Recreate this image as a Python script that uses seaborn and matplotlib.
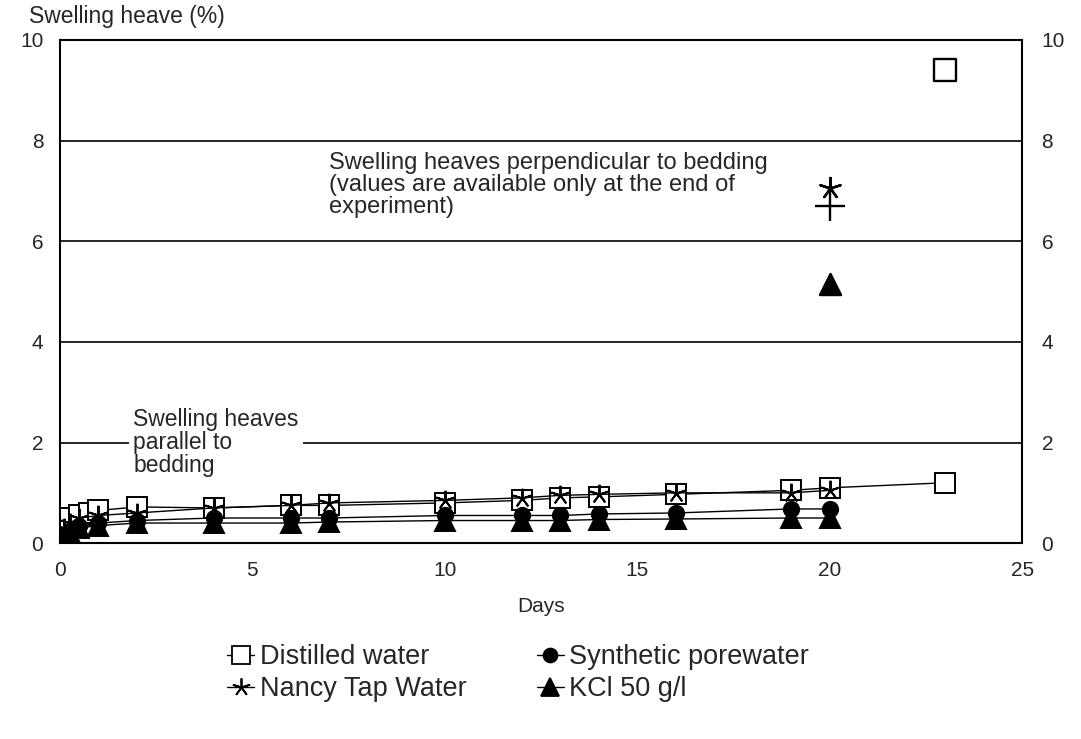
import numpy as np
import pandas as pd
import matplotlib
matplotlib.use("Agg")
import matplotlib.pyplot as plt
import seaborn as sns

# Swelling heaves parallel to bedding (time series)
days_distilled = [0, 0.1, 0.25, 0.5, 0.75, 1, 2, 4, 6, 7, 10, 12, 13, 14, 16, 19, 20, 23]
heave_distilled = [0.2, 0.4, 0.5, 0.55, 0.6, 0.65, 0.72, 0.7, 0.75, 0.75, 0.8, 0.85, 0.9, 0.92, 0.97, 1.05, 1.1, 1.2]

days_nancy = [0, 0.1, 0.25, 0.5, 1, 2, 4, 6, 7, 10, 12, 13, 14, 16, 19, 20]
heave_nancy = [0.1, 0.3, 0.4, 0.5, 0.55, 0.6, 0.7, 0.75, 0.8, 0.85, 0.9, 0.95, 0.97, 1.0, 1.0, 1.05]

days_pore = [0, 0.05, 0.1, 0.25, 0.5, 1, 2, 4, 6, 7, 10, 12, 13, 14, 16, 19, 20]
heave_pore = [0.0, 0.05, 0.15, 0.25, 0.35, 0.4, 0.45, 0.5, 0.5, 0.5, 0.55, 0.55, 0.55, 0.58, 0.6, 0.68, 0.68]

days_kcl = [0, 0.05, 0.1, 0.25, 0.5, 1, 2, 4, 6, 7, 10, 12, 13, 14, 16, 19, 20]
heave_kcl = [0.0, 0.05, 0.1, 0.2, 0.3, 0.35, 0.4, 0.4, 0.4, 0.42, 0.45, 0.45, 0.45, 0.47, 0.48, 0.5, 0.5]

# Swelling heaves perpendicular to bedding (end of experiment only)
perp_days = [23, 20, 20, 20]
perp_heave = [9.4, 7.05, 6.7, 5.15]
perp_markers = ["s", (5, 2, 0), "+", "^"]

series_names = ["Distilled water", "Nancy Tap Water", "Synthetic porewater", "KCl 50 g/l"]
series_days = [days_distilled, days_nancy, days_pore, days_kcl]
series_heave = [heave_distilled, heave_nancy, heave_pore, heave_kcl]
series_markers = ["s", (5, 2, 0), "o", "^"]
series_fill = ["white", "black", "black", "black"]

x_ticks = [0, 5, 10, 15, 20, 25]
y_ticks = [0, 2, 4, 6, 8, 10]

sns.set_style("white")
plt.rcParams["font.family"] = ["Liberation Sans", "DejaVu Sans"]

frames = []
for name, d, h in zip(series_names, series_days, series_heave):
    frames.append(pd.DataFrame({"Days": d, "Heave": h, "Series": name}))
df = pd.concat(frames, ignore_index=True)

fig = plt.figure(figsize=(10.81, 7.39), dpi=100)
ax = fig.add_axes([0.0555, 0.265, 0.89, 0.681])

# horizontal reference lines
for yv in y_ticks[1:-1]:
    ax.axhline(yv, color="black", lw=1.2, zorder=1)

handles = []
for name, mk, fc in zip(series_names, series_markers, series_fill):
    sub = df[df["Series"] == name]
    sns.lineplot(data=sub, x="Days", y="Heave", ax=ax, color="black", lw=1.0,
                 marker=mk, markersize=14 if mk != "o" else 11,
                 markerfacecolor=fc, markeredgecolor="black", markeredgewidth=1.4,
                 estimator=None, sort=False, legend=False, zorder=3)
    handles.append(plt.Line2D([], [], color="black", lw=1.0, marker=mk,
                              markersize=13 if mk != "o" else 10,
                              markerfacecolor=fc, markeredgecolor="black",
                              markeredgewidth=1.3))

perp = pd.DataFrame({"Days": perp_days, "Heave": perp_heave})
for i, mk in enumerate(perp_markers):
    fc = "white" if mk == "s" else "black"
    sns.scatterplot(data=perp.iloc[[i]], x="Days", y="Heave", ax=ax, marker=mk,
                    s=230 if mk not in ("+",) else 480, color=fc, edgecolor="black",
                    linewidth=1.7, zorder=4, legend=False)

ax.set_xlim(0, 25)
ax.set_ylim(0, 10)
ax.set_xticks(x_ticks)
ax.set_yticks(y_ticks)
ax.tick_params(axis="x", direction="in", length=8, width=1, labelsize=15, pad=13)
ax.tick_params(axis="y", length=0, labelsize=15, pad=12)
for s in ax.spines.values():
    s.set_color("black")
    s.set_linewidth(1.5)

# right-side duplicate y labels
ax2 = ax.twinx()
ax2.set_ylim(0, 10)
ax2.set_yticks(y_ticks)
ax2.tick_params(axis="y", length=0, labelsize=15, pad=14)
for s in ax2.spines.values():
    s.set_visible(False)

ax.set_xlabel("Days", fontsize=15, labelpad=12)
ax.set_ylabel("")
fig.text(0.027, 0.962, "Swelling heave (%)", fontsize=16.5, ha="left", va="bottom")

ax.text(1.9, 2.68, "Swelling heaves\nparallel to\nbedding", fontsize=16.5, ha="left",
        va="top", linespacing=1.0, zorder=2,
        bbox=dict(facecolor="white", edgecolor="none", pad=3))
ax.text(7.0, 7.78, "Swelling heaves perpendicular to bedding\n(values are available only at the end of\nexperiment)",
        fontsize=17, ha="left", va="top", linespacing=1.02, zorder=2)

fig.legend(handles, series_names, loc="upper left", bbox_to_anchor=(0.2, 0.143),
           ncol=2, frameon=False, fontsize=19.5, handlelength=1.0, handletextpad=0.2,
           columnspacing=2.6, labelspacing=0.22, borderaxespad=0)

fig.savefig("out.png", dpi=100)
